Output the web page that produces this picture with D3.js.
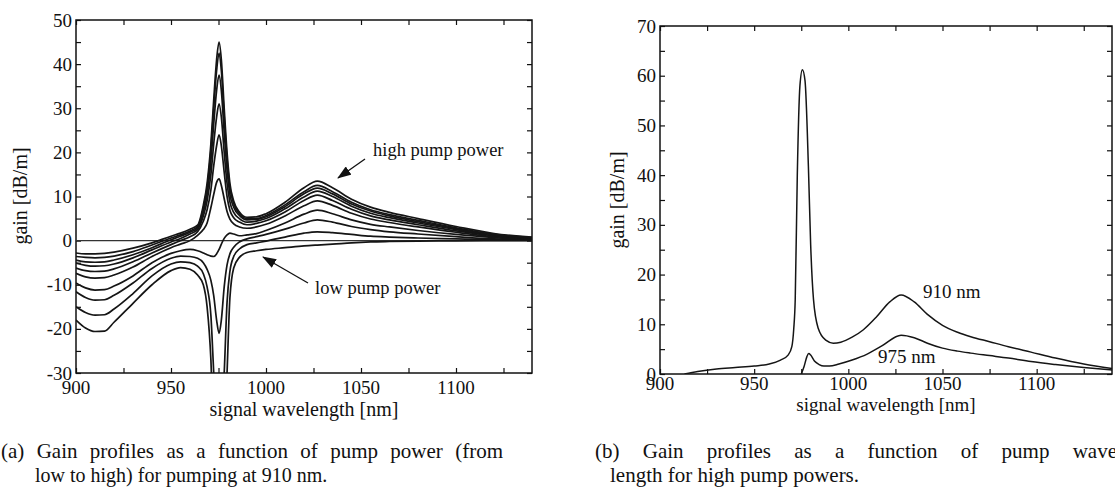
<!DOCTYPE html>
<html><head><meta charset="utf-8">
<script src="https://cdn.jsdelivr.net/npm/d3@7"></script>
<style>
body{margin:0;background:#fff;}
svg{display:block;}
</style>
</head><body>
<svg id="c" width="1115" height="491"></svg>
<script>
// ---------- DATA: panel (a) ----------
const wlA = [900,905,910,915,920,930,940,950,955,960,964,967,969,971,972.5,974,975.3,976.5,978,979.5,981,983,986,990,995,1000,1010,1020,1027,1035,1045,1055,1065,1080,1100,1120,1140];
const gainA9 = [-2.8,-3.0,-3.0,-2.9,-2.6,-1.7,-0.5,1.0,1.7,2.6, 3.5,8,13,22,32,41,45,41,30,20,13,9,6.5,5.3, 5.4,6.1,8.7,12.0,13.5,12.0,9.4,7.6,6.4,5.0,3.2,1.6,0.8];
const gainA8 = [-3.6,-3.8,-3.9,-3.8,-3.5,-2.5,-1.0,0.6,1.3,2.2, 3.2,7.3,12,20.5,30,38.5,42.5,38.5,28,18.5,12,8.4,6.1,5.0, 5.0,5.7,8.1,11.1,12.5,11.1,8.7,7.0,5.9,4.6,2.9,1.4,0.7];
const gainA7 = [-4.4,-4.8,-4.9,-4.8,-4.4,-3.2,-1.6,0.2,1.0,1.9, 2.9,6.5,10.5,18,26.5,34,37.5,34,24.5,16,10.5,7.6,5.7,4.7, 4.8,5.4,7.7,10.6,11.9,10.6,8.3,6.7,5.6,4.3,2.7,1.3,0.6];
const gainA6 = [-5.1,-5.6,-5.8,-5.7,-5.3,-3.9,-2.1,-0.3,0.5,1.5, 2.5,5.6,9,15,22,28,31,28,20,13,8.8,6.4,5.0,4.2, 4.4,5.0,7.2,9.9,11.2,10.0,7.8,6.2,5.2,4.0,2.5,1.2,0.6];
const gainA5 = [-6.2,-6.8,-7.0,-6.9,-6.4,-4.8,-2.8,-0.9,0.0,0.9, 2.0,4.4,7,11.5,17,21.5,24,21.5,15.5,10,6.9,5.2,4.2,3.6, 3.9,4.5,6.5,9.1,10.3,9.1,7.1,5.6,4.7,3.6,2.2,1.1,0.5];
const gainA4 = [-7.4,-8.2,-8.5,-8.4,-7.8,-6.0,-3.6,-1.6,-0.8,0.0, 1.2,2.5,4.0,7.5,10.5,13.2,14,12.5,9.5,6.6,4.9,3.8,3.1,2.8, 3.1,3.7,5.6,7.9,9.0,8.0,6.2,4.9,4.1,3.1,1.9,0.9,0.4];
const gainA3 = [-9.6,-10.7,-11.2,-11.1,-10.3,-8.0,-5.0,-2.9,-2.3,-2.0, -2.3,-2.8,-3.2,-3.5,-3.6,-3.0,-2.0,-0.8,0.5,1.3,1.7,1.5,1.1,1.3, 1.6,2.3,4.0,6.0,6.9,6.1,4.7,3.7,3.1,2.3,1.4,0.7,0.3];
const gainA2 = [-11.6,-12.9,-13.5,-13.4,-12.4,-9.6,-6.3,-4.0,-3.5,-3.6, -4.0,-5.0,-6.5,-9.0,-12.5,-18,-21,-18,-10.5,-5.5,-3.0,-1.5,-0.3,0.4, 0.9,1.4,2.6,4.0,4.7,4.2,3.2,2.5,2.0,1.5,0.9,0.4,0.2];
const gainA1 = [-15,-16.3,-16.9,-16.8,-15.5,-12.0,-8.0,-5.3,-4.8,-5.0, -5.8,-7.5,-10.5,-17,-30,-42,-46,-42,-30,-14,-7,-3.6,-1.9,-0.9, -0.5,-0.1,0.8,1.7,2.0,1.8,1.4,1.0,0.8,0.6,0.4,0.2,0.1];
const gainA0 = [-18,-19.8,-20.6,-20.5,-18.5,-14.2,-10.0,-6.8,-6.1,-6.5, -7.8,-10,-15,-27,-45,-60,-65,-60,-48,-30,-13,-6.2,-3.8,-2.7, -2.3,-2.0,-1.6,-1.2,-1.0,-0.8,-0.5,-0.3,-0.2,-0.1,-0.05,0,0];
const seriesA = [gainA0,gainA1,gainA2,gainA3,gainA4,gainA5,gainA6,gainA7,gainA8,gainA9];
const xTickLabels = [900,950,1000,1050,1100];
const yTickLabelsA = [-30,-20,-10,0,10,20,30,40,50];

// ---------- DATA: panel (b) ----------
const wlB910 = [913,920,930,940,950,958,964,968,970,971,971.8,972.9,974.3,975.6,977,978.8,980,981.5,984,988,992,996,1002,1008,1015,1022,1028,1035,1042,1050,1058,1065,1075,1085,1097,1110,1125,1140];
const gainB910 = [0,0.5,1.0,1.3,1.6,2.0,2.8,3.8,5.5,9,15,40,58,61.2,59,41.7,26,15,9.2,6.8,6.2,6.4,7.4,8.9,11.5,14.5,15.9,14.5,12.0,9.8,8.4,7.5,6.5,5.5,4.4,3.2,2.0,1.1];
const wlB975 = [975,976.5,978,979,980,982,984.5,987,990,995,1002,1010,1018,1028,1035,1042,1050,1058,1065,1075,1085,1097,1110,1125,1140];
const gainB975 = [0,1.5,3.5,4.1,3.8,2.6,1.9,1.6,1.6,2.0,2.8,4.0,5.7,7.8,7.3,6.2,5.2,4.6,4.2,3.7,3.2,2.5,1.9,1.3,0.8];
const yTickLabelsB = [0,10,20,30,40,50,60,70];

// ---------- DRAW ----------
const FONT = '"Liberation Serif", "Times New Roman", Tinos, Times, "DejaVu Serif", serif';
const svg = d3.select("#c").style("font-family", FONT);
const defs = svg.append("defs");
defs.append("marker").attr("id","arr").attr("markerUnits","userSpaceOnUse")
  .attr("markerWidth",14).attr("markerHeight",10).attr("refX",13).attr("refY",5)
  .attr("orient","auto")
  .append("path").attr("d","M0,0 L14,5 L0,10 Z").attr("fill","#111");

function txt(x, y, s, size, anchor){
  return svg.append("text").attr("x",x).attr("y",y)
    .attr("font-family",FONT).style("font-family",FONT)
    .style("font-size",size+"px").attr("fill","#111")
    .attr("text-anchor",anchor||"start").text(s);
}

function drawPanel(o){
  const {x, y, id, xTicks, yTicks, yLabels, xLabelY} = o;
  const g = svg.append("g");
  const [x0,x1] = x.range(), [y0,y1] = y.range();
  defs.append("clipPath").attr("id",id).append("rect")
    .attr("x",x0).attr("y",y1).attr("width",x1-x0).attr("height",y0-y1);
  const bottom = g.append("g").attr("transform",`translate(0,${y0})`)
    .call(d3.axisBottom(x).tickValues(xTicks).tickSize(-5).tickFormat(""));
  const top = g.append("g").attr("transform",`translate(0,${y1})`)
    .call(d3.axisTop(x).tickValues(xTicks).tickSize(-5).tickFormat(""));
  const left = g.append("g").attr("transform",`translate(${x0},0)`)
    .call(d3.axisLeft(y).tickValues(yTicks).tickSize(-5).tickFormat(""));
  const right = g.append("g").attr("transform",`translate(${x1},0)`)
    .call(d3.axisRight(y).tickValues(yTicks).tickSize(-5).tickFormat(""));
  [bottom,top,left,right].forEach(a=>{
    a.select(".domain").remove();
    a.selectAll("text").remove();
    a.selectAll("line").attr("stroke","#111").attr("stroke-width",1.2);
  });
  xTickLabels.forEach(v=> txt(x(v), xLabelY, String(v), 19, "middle"));
  yLabels.forEach(v=> txt(x0-4, y(v)+6.5, String(v), 19, "end"));
  g.append("rect").attr("x",x0).attr("y",y1).attr("width",x1-x0).attr("height",y0-y1)
    .attr("fill","none").attr("stroke","#111").attr("stroke-width",1.5);
  return g;
}

// Panel (a)
const xA = d3.scaleLinear([900,1140],[76,532]);
const yA = d3.scaleLinear([-30,50],[373,20]);
const xTicksAll = d3.range(900,1140,25);
const gA = drawPanel({x:xA, y:yA, id:"clipA", xTicks:xTicksAll, yTicks:d3.range(-30,51,5), yLabels:yTickLabelsA, xLabelY:394});
gA.append("line").attr("x1",xA(900)).attr("x2",xA(1140)).attr("y1",yA(0)).attr("y2",yA(0))
  .attr("stroke","#333").attr("stroke-width",1.4);
const lineA = d3.line().x((d,i)=>xA(wlA[i])).y(d=>yA(d)).curve(d3.curveMonotoneX);
gA.append("g").attr("clip-path","url(#clipA)").selectAll("path").data(seriesA).join("path")
  .attr("d",lineA).attr("fill","none").attr("stroke","#151515").attr("stroke-width",1.7);
txt(0,0,"gain [dB/m]",20,"middle").attr("transform","translate(27,196) rotate(-90)");
txt(304,416,"signal wavelength [nm]",20,"middle");
txt(373,156,"high pump power",18.5);
svg.append("line").attr("x1",365).attr("y1",159).attr("x2",338).attr("y2",178)
  .attr("stroke","#111").attr("stroke-width",1.3).attr("marker-end","url(#arr)");
txt(315,294,"low pump power",18.5);
svg.append("line").attr("x1",308).attr("y1",283).attr("x2",263).attr("y2",257)
  .attr("stroke","#111").attr("stroke-width",1.3).attr("marker-end","url(#arr)");

// Panel (b)
const xB = d3.scaleLinear([900,1140],[660,1112]);
const yB = d3.scaleLinear([0,70],[374,26]);
const gB = drawPanel({x:xB, y:yB, id:"clipB", xTicks:xTicksAll, yTicks:d3.range(0,71,5), yLabels:yTickLabelsB, xLabelY:390});
const line910 = d3.line().x((d,i)=>xB(wlB910[i])).y(d=>yB(d)).curve(d3.curveMonotoneX);
const line975 = d3.line().x((d,i)=>xB(wlB975[i])).y(d=>yB(d)).curve(d3.curveMonotoneX);
const gl = gB.append("g").attr("clip-path","url(#clipB)");
gl.append("path").datum(gainB910).attr("d",line910).attr("fill","none").attr("stroke","#151515").attr("stroke-width",1.5);
gl.append("path").datum(gainB975).attr("d",line975).attr("fill","none").attr("stroke","#151515").attr("stroke-width",1.5);
txt(0,0,"gain [dB/m]",20,"middle").attr("transform","translate(624,200) rotate(-90)");
txt(886,411,"signal wavelength [nm]",19,"middle");
txt(923,298,"910 nm",19);
txt(878,363,"975 nm",19);

// Captions
function justify(str, x0, x1, y, size){
  const words = str.split(" ");
  const t = txt(0, y, "", size);
  const widths = words.map(w=>{
    const tmp = txt(0,0,w,size);
    const wd = tmp.node().getComputedTextLength(); tmp.remove(); return wd;
  });
  const gap = (x1-x0-d3.sum(widths))/(words.length-1);
  let cx = x0;
  words.forEach((w,i)=>{ t.append("tspan").attr("x",cx).text(w); cx += widths[i]+gap; });
}
justify("(a) Gain profiles as a function of pump power (from", 1, 503, 458, 21);
txt(35,482,"low to high) for pumping at 910 nm.",20);
justify("(b) Gain profiles as a function of pump wave-", 595, 1124, 458, 21);
txt(610,482,"length for high pump powers.",21);
</script>
</body></html>
